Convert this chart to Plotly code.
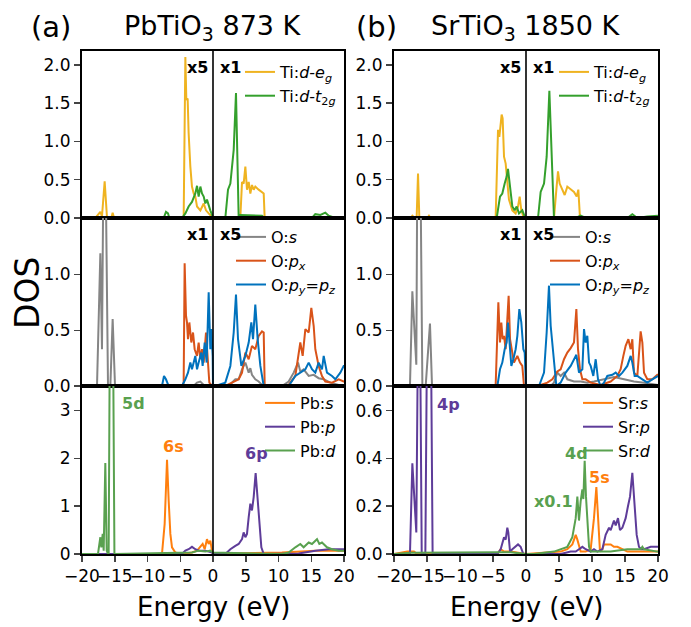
import plotly.graph_objects as go

FONT = "DejaVu Sans"

# ---------------- colours ----------------
C_EG = "#efb320"
C_T2G = "#34a02c"
C_OS = "#858585"
C_OPX = "#d95319"
C_OPY = "#0072bd"
C_AS = "#ff7f0e"
C_AP = "#5e3c99"
C_AD = "#59a14f"

# ---------------- (a) PbTiO3 : Ti d ----------------
ti_eg_a_E = [-20, -17.96, -17.2, -16.95, -16.54, -16.18, -15.52, -15.32, -15.11, -4.73, -4.48, -4.22, -4.07,
             -3.87, -3.72, -3.46, -3.21, -2.95, -2.70, -2.44, -1.93, -1.42, -1.07, -0.66, -0.15, 0, 4.17, 4.43,
             4.68, 4.94, 5.19, 5.45, 5.70, 5.95, 6.21, 6.46, 6.97, 7.48, 7.74, 7.89, 20]
ti_eg_a_D = [0, 0, 0.08, 0.02, 0.48, 0, 0, 0.07, 0, 0, 0, 2.10, 1.54,
             1.56, 1.11, 0.67, 0.41, 0.32, 0.28, 0.15, 0.10, 0.19, 0.10, 0.06, 0.02, 0, 0, 0.47,
             0.45, 0.67, 0.37, 0.47, 0.32, 0.43, 0.37, 0.41, 0.37, 0.34, 0.32, 0, 0]
ti_t2g_a_E = [-20, -7.53, -7.18, -6.87, -6.67, -4.73, -4.22, -3.72, -3.21, -2.70, -2.44, -2.19, -1.93, -1.68,
              -1.42, -1.17, -0.92, -0.66, -0.41, -0.15, 0, 1.88, 2.29, 2.65, 3.16, 3.51, 3.77, 3.92, 4.17,
              7.48, 7.89, 15.1, 15.62, 16.39, 17.15, 17.66, 18.68, 20]
ti_t2g_a_D = [0, 0, 0.08, 0.06, 0, 0, 0.06, 0.15, 0.21, 0.32, 0.42, 0.28, 0.41, 0.32,
              0.28, 0.19, 0.24, 0.15, 0.10, 0.04, 0, 0, 0.37, 0.45, 0.89, 1.63, 0.67, 0, 0.04,
              0.03, 0, 0, 0.05, 0.04, 0.07, 0.03, 0, 0]

# ---------------- (b) SrTiO3 : Ti d ----------------
ti_eg_b_E = [-20, -17.47, -17.22, -16.87, -16.57, -16.36, -16.16, -14.95, -14.70, -14.44, -4.60, -4.24, -4.04,
             -3.84, -3.69, -3.54, -3.33, -3.08, -2.83, -2.58, -2.07, -1.57, -1.21, -0.96, -0.71, -0.40, 0,
             4.24, 4.60, 4.85, 5.10, 5.51, 5.86, 6.26, 6.77, 7.27, 7.68, 7.93, 8.18, 20]
ti_eg_b_D = [0, 0, 0.03, 0, 0, 0.58, 0, 0, 0.03, 0, 0, 1.15, 1.06,
             1.28, 1.35, 1.30, 0.80, 0.71, 0.45, 0.24, 0.10, 0.06, 0.15, 0.28, 0.10, 0.02, 0,
             0, 0.37, 0.61, 0.45, 0.37, 0.30, 0.41, 0.37, 0.34, 0.28, 0.37, 0, 0]
ti_t2g_b_E = [-20, -4.44, -3.94, -3.59, -3.23, -2.93, -2.73, -2.42, -2.07, -1.72, -1.41, -1.06, -0.56, -0.20, 0,
              1.82, 2.22, 2.73, 3.13, 3.54, 3.84, 4.24, 7.53, 8.28, 9.04, 15.35, 16.11, 16.87, 18.38, 19.9, 20]
ti_t2g_b_D = [0, 0, 0.28, 0.32, 0.45, 0.54, 0.64, 0.37, 0.15, 0.10, 0.15, 0.06, 0.10, 0.02, 0,
              0, 0.34, 0.45, 0.80, 1.66, 0.89, 0, 0, 0.03, 0, 0, 0.05, 0, 0.02, 0.03, 0.03]

# ---------------- (a) PbTiO3 : O ----------------
o_s_a_E = [-20, -17.71, -17.20, -16.95, -16.59, -16.03, -15.67, -15.32, -14.96, -2.95, -2.44, -1.93, -1.42, 0,
           2.39, 2.90, 3.41, 3.92, 4.43, 4.94, 5.45, 5.70, 5.95, 6.46, 6.97, 7.48, 10.53, 11.55, 12.32, 12.98,
           13.33, 13.84, 14.61, 15.37, 16.13, 16.9, 17.91, 19.19, 20]
o_s_a_D = [0, 0, 1.19, 0.33, 3.0, 0, 0, 0.60, 0, 0, 0.03, 0.04, 0.01, 0,
           0, 0.03, 0.06, 0.06, 0.15, 0.21, 0.12, 0.16, 0.10, 0.06, 0.04, 0.01, 0, 0.04, 0.12, 0.21,
           0.13, 0.15, 0.09, 0.10, 0.07, 0.06, 0.03, 0.01, 0]
o_px_a_E = [-20, -4.73, -4.48, -4.33, -4.12, -3.97, -3.82, -3.61, -3.31, -3.05, -2.80, -2.44, -2.19, -1.93, -1.68,
            -1.42, -1.07, -0.81, -0.56, -0.15, 0, 1.88, 3.92, 4.43, 4.94, 5.45, 5.95, 6.46, 6.97, 7.48, 7.74,
            7.89, 11.55, 12.57, 13.33, 13.69, 14.10, 14.61, 15.01, 15.37, 15.62, 16.13, 16.64, 17.15, 18.17,
            19.19, 19.95, 20]
o_px_a_D = [0, 0, 0.03, 1.10, 0.63, 0.57, 0.42, 0.57, 0.39, 0.48, 0.33, 0.27, 0.39, 0.24, 0.33,
            0.21, 0.48, 0.27, 0.03, 0, 0, 0, 0.06, 0.12, 0.30, 0.24, 0.36, 0.33, 0.45, 0.49, 0.48,
            0.01, 0.01, 0.09, 0.39, 0.27, 0.51, 0.48, 0.70, 0.54, 0.33, 0.18, 0.09, 0.04, 0.03,
            0.06, 0.04, 0.04]
o_py_a_E = [-20, -7.79, -7.48, -7.18, -6.77, -4.73, -4.22, -3.82, -3.46, -3.21, -2.70, -2.44, -2.19, -1.78, -1.58,
            -1.27, -0.97, -0.66, -0.41, -0.25, -0.05, 0, 0.36, 1.88, 2.65, 3.16, 3.51, 3.82, 4.33, 4.94, 5.45,
            5.85, 6.11, 6.46, 6.82, 7.23, 7.74, 11.55, 12.57, 13.33, 14.10, 14.61, 15.11, 15.62, 16.13, 16.64,
            16.90, 17.40, 18.17, 18.68, 19.44, 19.95, 20]
o_py_a_D = [0, 0, 0.09, 0.06, 0, 0, 0.06, 0.12, 0.21, 0.15, 0.27, 0.15, 0.21, 0.30, 0.18,
            0.39, 0.21, 0.84, 0.33, 0.51, 0.27, 0, 0, 0.03, 0.18, 0.48, 0.82, 0.42, 0.18, 0.27, 0.39,
            0.57, 0.42, 0.73, 0.42, 0.18, 0, 0, 0.09, 0.12, 0.15, 0.21, 0.15, 0.12, 0.21, 0.15,
            0.27, 0.12, 0.09, 0.06, 0.12, 0.18, 0.18]

# ---------------- (b) SrTiO3 : O ----------------
o_s_b_E = [-20, -17.58, -17.22, -16.62, -16.30, -15.70, -15.20, -14.55, -14.24, 0, 3.74, 4.24, 4.75, 5.25, 5.76,
           6.26, 7.27, 8.28, 9.29, 10.30, 11.82, 13.33, 14.85, 16.36, 17.88, 19.9, 20]
o_s_b_D = [0, 0, 0.85, 0.19, 4.0, 0, 0, 0.56, 0, 0, 0, 0.03, 0.12, 0.09, 0.12,
           0.06, 0.04, 0.04, 0.03, 0.04, 0.06, 0.08, 0.06, 0.04, 0.03, 0.01, 0.01]
o_px_b_E = [-20, -4.60, -4.19, -3.94, -3.74, -3.54, -3.33, -3.08, -2.83, -2.63, -2.42, -2.07, -1.82, -1.31, -0.91,
            -0.56, -0.30, 0, 2.22, 3.23, 3.99, 4.75, 5.25, 5.76, 6.26, 6.77, 7.27, 7.63, 7.88, 8.18, 8.54,
            9.04, 9.80, 11.31, 12.83, 13.84, 14.34, 14.75, 15.10, 15.51, 15.86, 16.11, 16.36, 16.87, 17.37,
            17.63, 17.88, 18.38, 19.14, 19.90, 20]
o_px_b_D = [0, 0, 0.75, 0.39, 0.57, 0.42, 0.45, 0.33, 0.60, 0.81, 0.42, 0.27, 0.21, 0.27, 0.21,
            0.18, 0, 0, 0.01, 0.03, 0.06, 0.13, 0.15, 0.24, 0.30, 0.34, 0.39, 0.69, 0.33, 0.15, 0.06,
            0.06, 0.03, 0.01, 0.04, 0.09, 0.15, 0.27, 0.36, 0.42, 0.33, 0.42, 0.12, 0.09, 0.49,
            0.39, 0.12, 0.06, 0.06, 0.10, 0.10]
o_py_b_E = [-20, -4.34, -3.94, -3.59, -3.23, -2.93, -2.73, -2.42, -2.22, -1.92, -1.57, -1.31, -1.01, -0.71, -0.40,
            -0.20, 0, 1.97, 2.73, 3.13, 3.48, 3.74, 4.14, 4.60, 5.25, 6.01, 6.77, 7.27, 7.63, 8.03, 8.54,
            8.79, 9.04, 9.29, 9.55, 9.80, 10.20, 10.56, 10.91, 11.31, 11.82, 12.32, 13.08, 13.59, 14.09,
            14.60, 15.35, 15.86, 16.11, 16.46, 16.87, 17.63, 18.38, 19.14, 19.90, 20]
o_py_b_D = [0, 0, 0.15, 0.21, 0.33, 0.39, 0.57, 0.27, 0.18, 0.24, 0.33, 0.45, 0.69, 0.57, 0.33,
            0.30, 0, 0, 0.12, 0.48, 0.90, 0.54, 0.27, 0, 0.03, 0.12, 0.18, 0.24, 0.28, 0.12, 0.15,
            0.51, 0.39, 0.45, 0.21, 0.18, 0.09, 0.24, 0.06, 0, 0.03, 0.09, 0.10, 0.12, 0.09,
            0.12, 0.18, 0.27, 0.21, 0.09, 0.09, 0.06, 0.03, 0.06, 0.09, 0.09]

# ---------------- (a) PbTiO3 : Pb ----------------
pb_s_E = [-20, -7.79, -7.38, -7.02, -6.77, -6.51, -6.26, -5.75, -4.73, -3.21, -2.44, -1.93, -1.58, -1.27, -0.92,
          -0.66, -0.41, -0.15, 0, 1.88, 10.53, 15.62, 20]
pb_s_D = [0, 0, 0.63, 1.97, 1.12, 0.42, 0.14, 0.03, 0, 0.03, 0.07, 0.14, 0.21, 0.10, 0.31,
          0.21, 0.28, 0.07, 0, 0.01, 0.03, 0.07, 0.07]
pb_p_E = [-20, -4.73, -4.22, -3.72, -3.21, -2.70, -2.19, -1.17, -0.15, 0, 1.88, 2.65, 3.41, 3.92, 4.43, 4.68,
          4.94, 5.19, 5.45, 5.70, 5.95, 6.21, 6.51, 6.77, 7.07, 7.38, 7.74, 13.08, 15.62, 17.66, 20]
pb_p_D = [0, 0, 0.07, 0.10, 0.15, 0.10, 0.07, 0.07, 0.03, 0, 0, 0.10, 0.17, 0.21, 0.31, 0.45,
          0.35, 0.42, 0.77, 1.05, 0.91, 1.19, 1.69, 1.19, 0.56, 0.14, 0, 0.01, 0.07, 0.10, 0.10]
pb_d_E = [-20, -17.56, -17.20, -17.05, -16.84, -16.69, -16.44, -16.23, -16.03, -15.93, -15.70, -15.30, -15.05,
          -3.21, -2.19, -1.17, -0.41, 0, 10.53, 11.55, 12.57, 13.33, 13.84, 14.61, 15.11, 15.62, 15.88,
          16.23, 16.64, 17.40, 18.17, 19.19, 19.95, 20]
pb_d_D = [0, 0, 0.35, 0.14, 0.42, 0.07, 1.90, 0.07, 0, 0, 6.0, 5.5, 0,
          0.03, 0.07, 0.05, 0.07, 0.03, 0, 0.03, 0.14, 0.21, 0.14, 0.24, 0.21, 0.28, 0.31,
          0.21, 0.24, 0.14, 0.10, 0.07, 0.07, 0.07]

# ---------------- (b) SrTiO3 : Sr ----------------
sr_s_E = [-20, -17.98, -16.97, -16.5, -4.34, -3.84, -3.33, -2.32, 0, 5.25, 6.26, 7.02, 7.53, 7.78, 8.28, 9.04,
          9.80, 10.30, 10.66, 10.91, 11.21, 11.57, 11.82, 12.32, 12.83, 13.33, 13.84, 14.60, 15.35, 17.88,
          19.9, 20]
sr_s_D = [0, 0.01, 0.01, 0, 0, 0.02, 0.01, 0.01, 0, 0.01, 0.02, 0.04, 0.08, 0.06, 0.01, 0.01,
          0.02, 0.15, 0.28, 0.13, 0.01, 0.02, 0.04, 0.04, 0.04, 0.03, 0.03, 0.02, 0.01, 0.01,
          0.01, 0.01]
sr_p_E = [-20, -17.58, -17.22, -16.87, -16.62, -16.20, -15.80, -15.25, -14.70, -14.15, -4.34, -3.84, -3.33,
          -3.08, -2.83, -2.68, -2.42, -2.07, -1.57, -1.21, -0.81, -0.40, 0, 5.25, 6.77, 7.53, 8.03, 8.54,
          9.04, 9.80, 10.30, 10.81, 11.57, 12.07, 12.58, 12.83, 13.33, 13.59, 13.94, 14.24, 14.60, 15.10,
          15.45, 15.76, 16.11, 16.36, 16.77, 17.12, 17.47, 17.88, 18.89, 19.90, 20]
sr_p_D = [0, 0, 0.38, 0.21, 0.09, 1.5, 0, 0, 2.0, 0, 0, 0.02, 0.07,
          0.06, 0.11, 0.09, 0.01, 0.02, 0.03, 0.04, 0.03, 0, 0, 0, 0.01, 0.01, 0.02, 0.03,
          0.02, 0.01, 0.02, 0.01, 0.02, 0.08, 0.11, 0.10, 0.14, 0.12, 0.15, 0.10, 0.11, 0.15,
          0.20, 0.24, 0.34, 0.25, 0.08, 0.03, 0.02, 0.02, 0.03, 0.03, 0.03]
sr_d_E = [-20, -17.5, -4.34, -2.32, 0, 1.21, 4.24, 5.25, 6.26, 7.02, 7.53, 7.78, 8.03, 8.28, 8.54, 8.69, 8.89,
          9.09, 9.29, 9.55, 9.80, 10.30, 12.83, 15.35, 17.37, 17.63, 17.88, 19.90, 20]
sr_d_D = [0, 0.005, 0.007, 0.007, 0, 0, 0.01, 0.02, 0.03, 0.07, 0.15, 0.24, 0.14, 0.22, 0.27, 0.23, 0.39,
          0.24, 0.13, 0.03, 0.01, 0.01, 0.01, 0.02, 0.02, 0.03, 0.02, 0.01, 0.01]

# ---------------- axis ticks ----------------
x_ticks = [-20, -15, -10, -5, 0, 5, 10, 15, 20]
y_ticks_ti = [0, 0.5, 1.0, 1.5, 2.0]
y_ticks_o = [0, 0.5, 1.0]
y_ticks_pb = [0, 1, 2, 3]
y_ticks_sr = [0, 0.2, 0.4, 0.6]

W, H = 691, 627
XL = [82 / W, 344 / W]
XR = [394 / W, 658 / W]
YT = [1 - 218 / H, 1 - 51 / H]
YM = [1 - 386 / H, 1 - 218 / H]
YB = [1 - 554 / H, 1 - 386 / H]

fig = go.Figure()


def add(E, D, color, name, n, legend):
    fig.add_trace(go.Scatter(
        x=E, y=D, mode="lines", name=name,
        line=dict(color=color, width=2),
        xaxis="x" if n == 1 else f"x{n}", yaxis="y" if n == 1 else f"y{n}",
        legend=legend, hoverinfo="skip"))


add(ti_eg_a_E, ti_eg_a_D, C_EG, "Ti:<i>d</i>-<i>e</i><sub><i>g</i></sub>", 1, "legend")
add(ti_t2g_a_E, ti_t2g_a_D, C_T2G, "Ti:<i>d</i>-<i>t</i><sub>2<i>g</i></sub>", 1, "legend")
add(ti_eg_b_E, ti_eg_b_D, C_EG, "Ti:<i>d</i>-<i>e</i><sub><i>g</i></sub>", 2, "legend2")
add(ti_t2g_b_E, ti_t2g_b_D, C_T2G, "Ti:<i>d</i>-<i>t</i><sub>2<i>g</i></sub>", 2, "legend2")
add(o_s_a_E, o_s_a_D, C_OS, "O:<i>s</i>", 3, "legend3")
add(o_px_a_E, o_px_a_D, C_OPX, "O:<i>p</i><sub><i>x</i></sub>", 3, "legend3")
add(o_py_a_E, o_py_a_D, C_OPY, "O:<i>p</i><sub><i>y</i></sub>=<i>p</i><sub><i>z</i></sub>", 3, "legend3")
add(o_s_b_E, o_s_b_D, C_OS, "O:<i>s</i>", 4, "legend4")
add(o_px_b_E, o_px_b_D, C_OPX, "O:<i>p</i><sub><i>x</i></sub>", 4, "legend4")
add(o_py_b_E, o_py_b_D, C_OPY, "O:<i>p</i><sub><i>y</i></sub>=<i>p</i><sub><i>z</i></sub>", 4, "legend4")
add(pb_s_E, pb_s_D, C_AS, "Pb:<i>s</i>", 5, "legend5")
add(pb_p_E, pb_p_D, C_AP, "Pb:<i>p</i>", 5, "legend5")
add(pb_d_E, pb_d_D, C_AD, "Pb:<i>d</i>", 5, "legend5")
add(sr_s_E, sr_s_D, C_AS, "Sr:<i>s</i>", 6, "legend6")
add(sr_p_E, sr_p_D, C_AP, "Sr:<i>p</i>", 6, "legend6")
add(sr_d_E, sr_d_D, C_AD, "Sr:<i>d</i>", 6, "legend6")

axis_common = dict(showline=True, mirror=True, linecolor="black", linewidth=2,
                   showgrid=False, zeroline=False, automargin=False)
tickfont = dict(family=FONT, size=17, color="black")

layout = dict(width=W, height=H, margin=dict(l=0, r=0, t=0, b=0, autoexpand=False),
              plot_bgcolor="white", paper_bgcolor="white",
              font=dict(family=FONT, color="black"))

specs = [
    (1, XL, YT, y_ticks_ti, [0, 2.18], ".1f", False),
    (2, XR, YT, y_ticks_ti, [0, 2.18], ".1f", False),
    (3, XL, YM, y_ticks_o, [0, 1.507], ".1f", False),
    (4, XR, YM, y_ticks_o, [0, 1.507], ".1f", False),
    (5, XL, YB, y_ticks_pb, [0, 3.51], "d", True),
    (6, XR, YB, y_ticks_sr, [0, 0.703], ".1f", True),
]
for n, xd, yd, yt, yr, fmt, bottom in specs:
    xk = "xaxis" if n == 1 else f"xaxis{n}"
    yk = "yaxis" if n == 1 else f"yaxis{n}"
    ya = "y" if n == 1 else f"y{n}"
    xa = "x" if n == 1 else f"x{n}"
    layout[xk] = dict(axis_common, domain=xd, range=[-20, 20], anchor=ya,
                      tickvals=x_ticks, tickangle=0,
                      ticks="outside" if bottom else "", ticklen=6, tickwidth=1.5,
                      showticklabels=bottom, tickfont=tickfont)
    layout[yk] = dict(axis_common, domain=yd, range=yr, anchor=xa,
                      tickvals=yt, tickformat=fmt, ticks="outside", ticklen=6, tickwidth=1.5,
                      tickfont=tickfont)

leg_font = dict(family=FONT, size=16, color="black")
leg_common = dict(bgcolor="rgba(0,0,0,0)", borderwidth=0, font=leg_font,
                  xanchor="right", yanchor="top", itemwidth=30, tracegroupgap=0)
layout["legend"] = dict(leg_common, x=342 / W, y=1 - 55 / H)
layout["legend2"] = dict(leg_common, x=656 / W, y=1 - 55 / H)
layout["legend3"] = dict(leg_common, x=342 / W, y=1 - 220 / H)
layout["legend4"] = dict(leg_common, x=656 / W, y=1 - 220 / H)
layout["legend5"] = dict(leg_common, x=342 / W, y=1 - 386 / H)
layout["legend6"] = dict(leg_common, x=656 / W, y=1 - 386 / H)

fig.update_layout(**layout)

# zero-energy separator lines
for n in range(1, 7):
    xa = "x" if n == 1 else f"x{n}"
    ya = "y" if n == 1 else f"y{n}"
    fig.add_shape(type="line", xref=xa, yref=f"{ya} domain", x0=0, x1=0, y0=0, y1=1,
                  line=dict(color="black", width=1.6))

bold = dict(family=FONT, size=16, color="black")


def ann(text, x, y, xref, yref, font, xanchor="center", yanchor="middle", **kw):
    fig.add_annotation(text=text, x=x, y=y, xref=xref, yref=yref, showarrow=False,
                       font=font, xanchor=xanchor, yanchor=yanchor, **kw)


# scale markers
for n, left, right in [(1, "x5", "x1"), (2, "x5", "x1"), (3, "x1", "x5"), (4, "x1", "x5")]:
    xa = "x" if n == 1 else f"x{n}"
    ya = "y" if n == 1 else f"y{n}"
    ann(f"<b>{left}</b>", -0.5, 0.9, xa, f"{ya} domain", bold, xanchor="right")
    ann(f"<b>{right}</b>", 0.7, 0.9, xa, f"{ya} domain", bold, xanchor="left")

# orbital labels
ann("<b>5d</b>", -12.2, 3.14, "x5", "y5", dict(bold, color=C_AD))
ann("<b>6s</b>", -6.1, 2.24, "x5", "y5", dict(bold, color=C_AS))
ann("<b>6p</b>", 6.6, 2.11, "x5", "y5", dict(bold, color=C_AP))
ann("<b>4p</b>", -11.8, 0.624, "x6", "y6", dict(bold, color=C_AP))
ann("<b>4d</b>", 7.7, 0.42, "x6", "y6", dict(bold, color=C_AD))
ann("<b>5s</b>", 11.2, 0.32, "x6", "y6", dict(bold, color=C_AS))
ann("<b>x0.1</b>", 4.2, 0.22, "x6", "y6", dict(bold, color=C_AD))

# titles
big = dict(family=FONT, size=29, color="black")
ttl = dict(family=FONT, size=27, color="black")
ann("(a)", 51 / W, 1 - 27 / H, "paper", "paper", big)
ann("(b)", 376 / W, 1 - 27 / H, "paper", "paper", big)
ann("PbTiO<sub>3</sub> 873 K", 213 / W, 1 - 27 / H, "paper", "paper", ttl)
ann("SrTiO<sub>3</sub> 1850 K", 526 / W, 1 - 27 / H, "paper", "paper", ttl)
ann("DOS", 27 / W, 1 - 293 / H, "paper", "paper", dict(family=FONT, size=33, color="black"), textangle=-90)
xt = dict(family=FONT, size=26, color="black")
ann("Energy (eV)", 213 / W, 1 - 607 / H, "paper", "paper", xt)
ann("Energy (eV)", 526 / W, 1 - 607 / H, "paper", "paper", xt)

fig.write_html("out.html",
               config={"displayModeBar": False, "staticPlot": True},
               post_script="document.body.style.margin='0';document.body.style.overflow='hidden';")
